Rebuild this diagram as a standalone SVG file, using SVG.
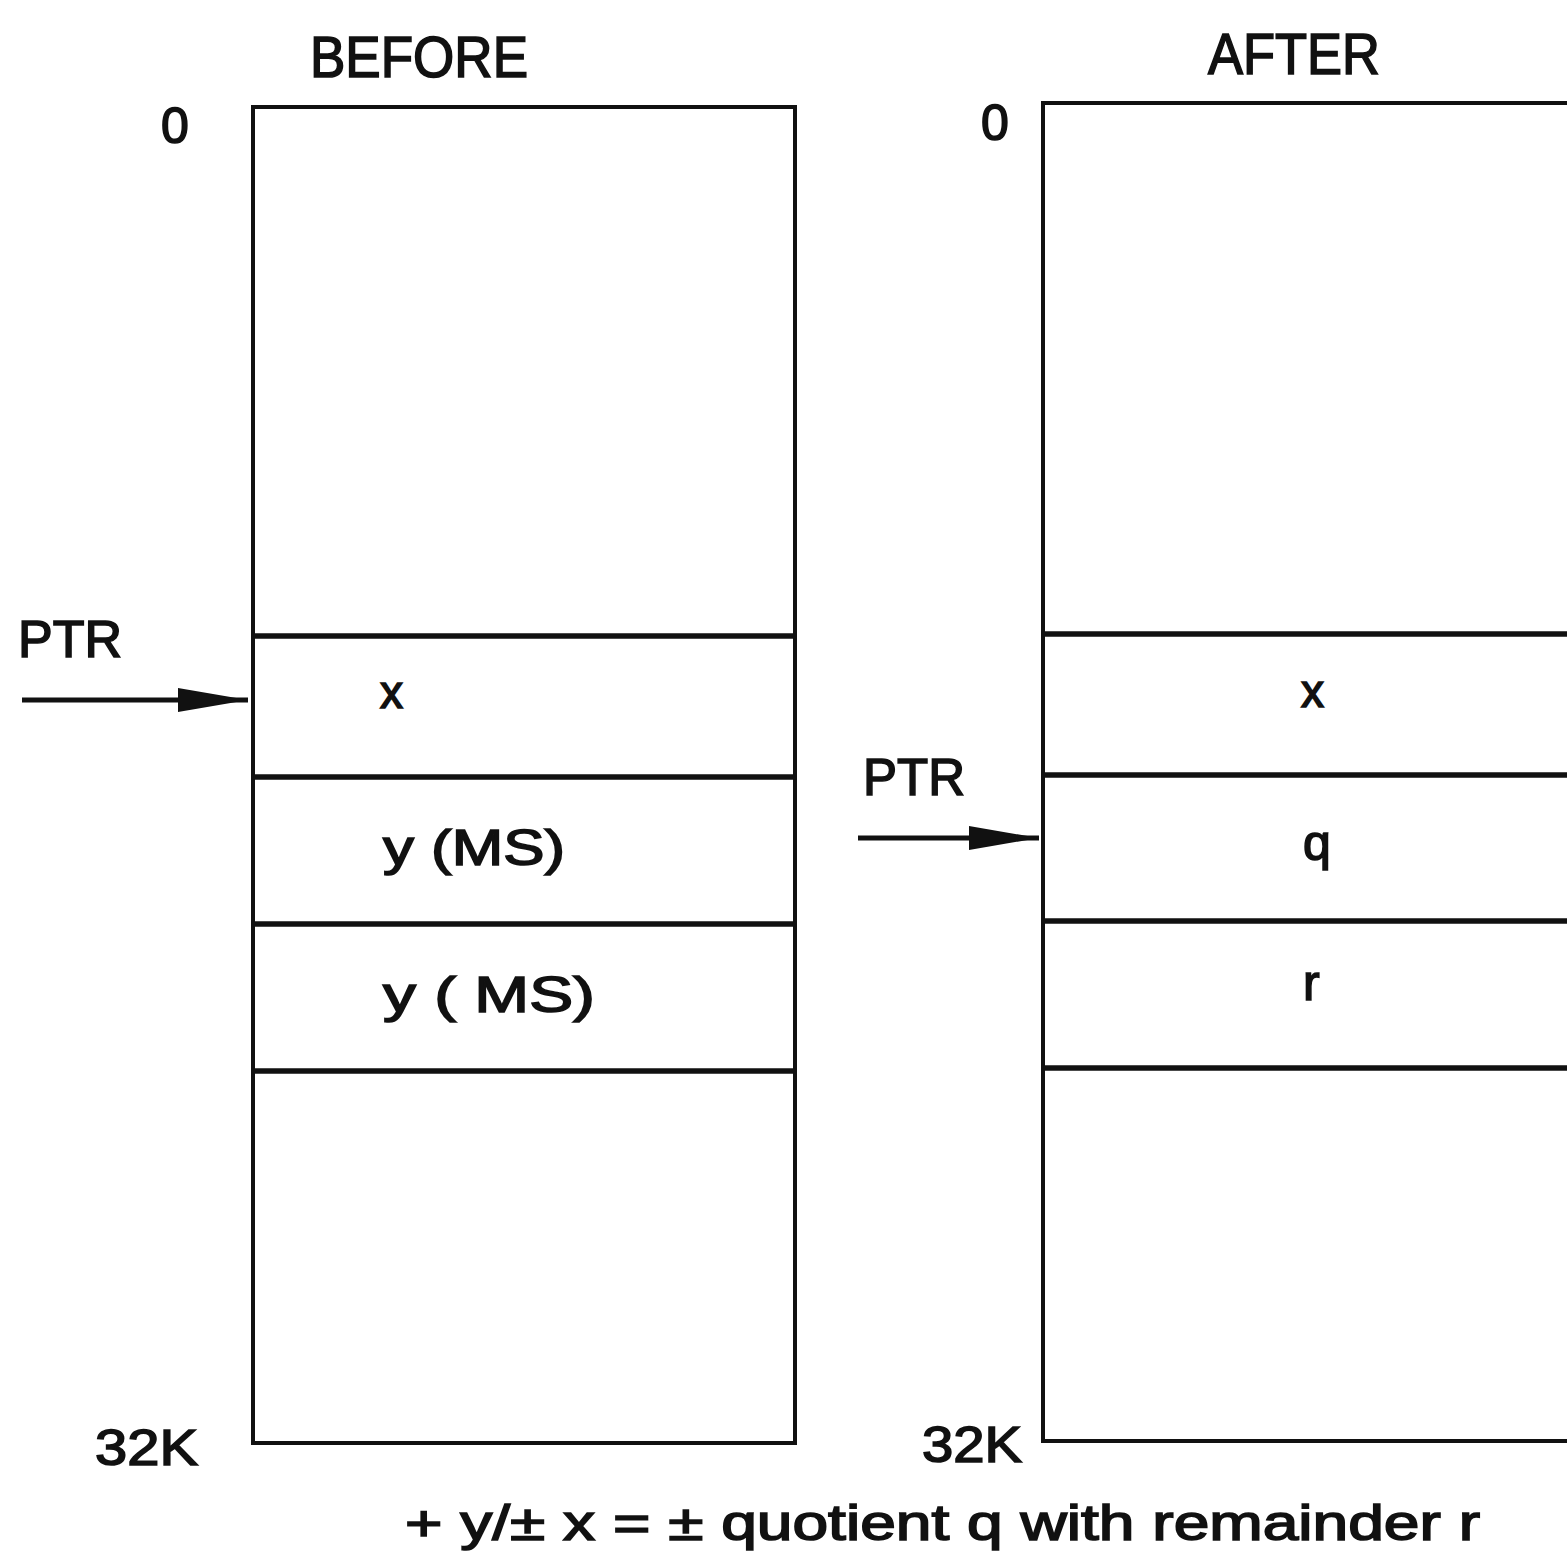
<svg xmlns="http://www.w3.org/2000/svg" width="1567" height="1558" viewBox="0 0 1567 1558">
<style>
text{font-family:"Liberation Sans",Arial,sans-serif;fill:#111;stroke:#111;stroke-width:1.6}
.box{fill:none;stroke:#111;stroke-width:4}
.div{stroke:#111;stroke-width:5.5}
.arr{stroke:#111;stroke-width:5;fill:none}
</style>
<defs>
<marker id="ah2" viewBox="0 0 70 30" refX="70" refY="15" markerWidth="70" markerHeight="30" orient="auto" markerUnits="userSpaceOnUse">
<path d="M0,3 L70,15 L0,27 Z" fill="#111"/>
</marker>
</defs>
<rect width="1567" height="1558" fill="#fff"/>
<text x="310" y="77" font-size="58" textLength="218" lengthAdjust="spacingAndGlyphs">BEFORE</text>
<text x="1208" y="74" font-size="58" textLength="172" lengthAdjust="spacingAndGlyphs">AFTER</text>

<g id="before-memory">
<rect class="box" x="253" y="107" width="542" height="1336"/>
<line class="div" x1="253" y1="636" x2="795" y2="636"/>
<line class="div" x1="253" y1="777" x2="795" y2="777"/>
<line class="div" x1="253" y1="924" x2="795" y2="924"/>
<line class="div" x1="253" y1="1071" x2="795" y2="1071"/>
<text x="161" y="143" font-size="50">0</text>
<text x="95" y="1465" font-size="50" textLength="103" lengthAdjust="spacingAndGlyphs">32K</text>
<text x="380" y="708" font-size="46">x</text>
<text x="383" y="865" font-size="50" textLength="182" lengthAdjust="spacingAndGlyphs">y (MS)</text>
<text x="383" y="1012" font-size="50" textLength="212" lengthAdjust="spacingAndGlyphs">y ( MS)</text>
</g>

<g id="after-memory">
<path class="box" d="M1567,103 L1043,103 L1043,1441 L1567,1441"/>
<line class="div" x1="1043" y1="634" x2="1567" y2="634"/>
<line class="div" x1="1043" y1="775" x2="1567" y2="775"/>
<line class="div" x1="1043" y1="921" x2="1567" y2="921"/>
<line class="div" x1="1043" y1="1068" x2="1567" y2="1068"/>
<text x="981" y="140" font-size="50">0</text>
<text x="922" y="1462" font-size="50" textLength="100" lengthAdjust="spacingAndGlyphs">32K</text>
<text x="1301" y="707" font-size="46">x</text>
<text x="1303" y="860" font-size="50">q</text>
<text x="1303" y="1000" font-size="50">r</text>
</g>

<g id="ptr-before">
<text x="18" y="657" font-size="52" textLength="104" lengthAdjust="spacingAndGlyphs">PTR</text>
</g>
<g id="ptr-after">
<text x="863" y="795" font-size="52" textLength="102" lengthAdjust="spacingAndGlyphs">PTR</text>
</g>

<g id="connectors">
<line class="arr" x1="22" y1="700" x2="248" y2="700" marker-end="url(#ah2)"/>
<line class="arr" x1="858" y1="838" x2="1039" y2="838" marker-end="url(#ah2)"/>
</g>

<text x="405" y="1540" font-size="50" textLength="1075" lengthAdjust="spacingAndGlyphs">+ y/± x = ± quotient q with remainder r</text>
</svg>
